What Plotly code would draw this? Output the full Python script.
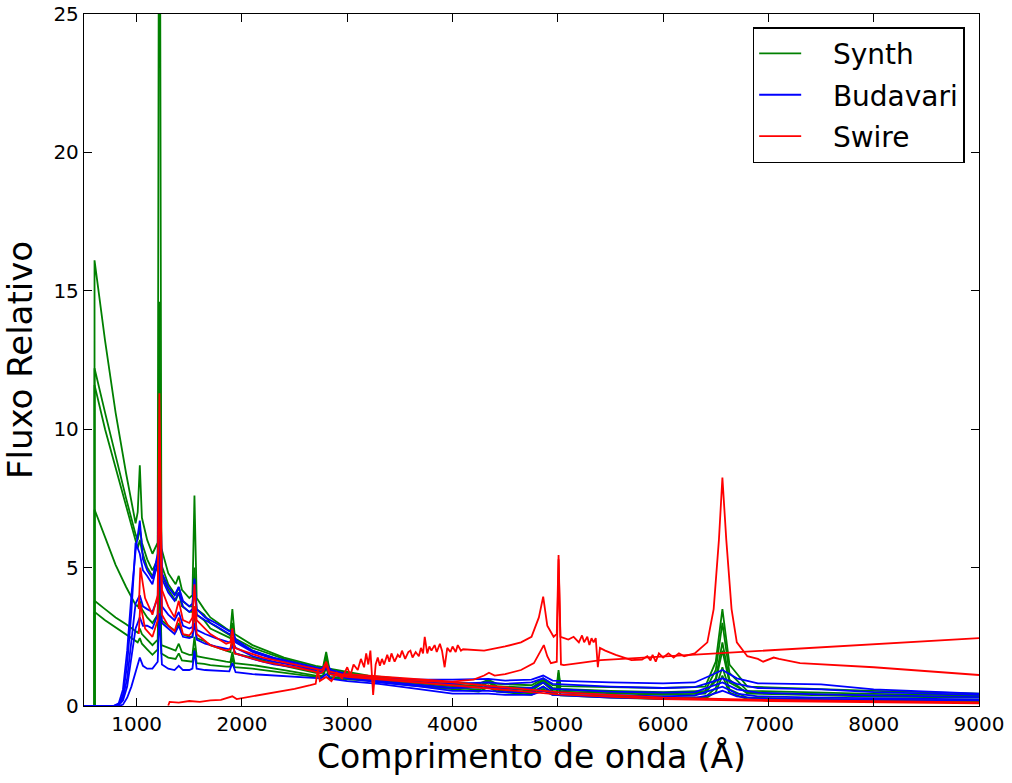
import plotly.graph_objects as go

# ---------------- Synth (green) ----------------
SYNTH_WAVE = [600, 600, 700, 800, 900, 990, 1010, 1030, 1050, 1100, 1150, 1200, 1216, 1235, 1300,
              1370, 1400, 1430, 1500, 1530, 1549, 1570, 1640, 1700, 1850, 1890, 1909, 1930, 2100, 2400,
              2700, 2770, 2800, 2830, 3200, 3600, 4000, 4250, 4340, 4420, 4750, 4861, 4950, 4990, 5007,
              5025, 5500, 6000, 6400, 6500, 6563, 6630, 6800, 7500, 8000, 9000]
SYNTH_1 = [0, 16.1, 13.2, 10.6, 8.4, 6.6, 7.0, 8.7, 6.8, 6.0, 5.5, 5.9, 40.0, 5.7, 4.8,
           4.4, 4.7, 4.2, 3.9, 4.0, 7.6, 3.9, 3.5, 3.2, 2.8, 2.7, 3.5, 2.6, 2.2, 1.75,
           1.45, 1.4, 1.95, 1.35, 1.1, 0.95, 0.85, 0.8, 0.95, 0.8, 0.75, 1.0, 0.75, 0.74, 1.3,
           0.72, 0.68, 0.65, 0.7, 1.6, 3.5, 1.5, 0.7, 0.6, 0.55, 0.45]
SYNTH_2 = [0, 12.2, 10.6, 9.0, 7.5, 6.2, 6.0, 6.4, 5.9, 5.3, 4.9, 5.3, 14.6, 5.1, 4.4,
           4.0, 4.3, 3.8, 3.6, 3.6, 5.0, 3.5, 3.3, 3.0, 2.65, 2.55, 3.0, 2.45, 2.1, 1.7,
           1.4, 1.35, 1.8, 1.3, 1.05, 0.9, 0.78, 0.72, 0.9, 0.72, 0.65, 0.95, 0.65, 0.64, 1.2,
           0.62, 0.55, 0.5, 0.55, 1.3, 3.0, 1.2, 0.55, 0.48, 0.44, 0.38]
SYNTH_3 = [0, 11.6, 10.0, 8.6, 7.2, 5.9, 5.7, 6.0, 5.6, 5.0, 4.7, 5.0, 12.0, 4.8, 4.2,
           3.8, 4.1, 3.6, 3.4, 3.4, 4.6, 3.3, 3.1, 2.8, 2.5, 2.45, 2.8, 2.35, 2.0, 1.6,
           1.3, 1.3, 1.7, 1.25, 1.0, 0.85, 0.72, 0.66, 0.85, 0.66, 0.55, 0.85, 0.55, 0.54, 1.1,
           0.52, 0.45, 0.4, 0.45, 1.0, 2.3, 0.95, 0.45, 0.38, 0.34, 0.3]
SYNTH_4 = [0, 7.1, 6.1, 5.1, 4.3, 3.65, 3.6, 3.8, 3.5, 3.2, 3.0, 3.3, 9.0, 3.1, 2.9,
           2.7, 3.0, 2.6, 2.5, 2.5, 3.6, 2.45, 2.35, 2.2, 2.0, 1.95, 2.4, 1.9, 1.75, 1.45,
           1.2, 1.2, 1.6, 1.15, 1.0, 0.85, 0.75, 0.7, 0.88, 0.7, 0.62, 0.9, 0.6, 0.6, 1.0,
           0.58, 0.5, 0.45, 0.5, 0.9, 2.0, 0.85, 0.48, 0.42, 0.38, 0.33]
SYNTH_5 = [0, 3.8, 3.5, 3.2, 2.95, 2.7, 2.65, 2.8, 2.6, 2.4, 2.2, 2.4, 6.0, 2.2, 2.1,
           2.0, 2.25, 1.95, 1.85, 1.85, 2.5, 1.8, 1.75, 1.7, 1.6, 1.58, 1.95, 1.55, 1.48, 1.3,
           1.1, 1.1, 1.5, 1.05, 0.95, 0.8, 0.65, 0.58, 0.75, 0.58, 0.45, 0.7, 0.45, 0.44, 0.85,
           0.42, 0.35, 0.3, 0.32, 0.65, 1.4, 0.6, 0.3, 0.25, 0.22, 0.18]
SYNTH_6 = [0, 3.4, 3.1, 2.85, 2.6, 2.35, 2.3, 2.45, 2.25, 2.05, 1.85, 2.05, 5.0, 1.9, 1.75,
           1.7, 1.9, 1.65, 1.6, 1.6, 2.1, 1.55, 1.52, 1.48, 1.42, 1.42, 1.75, 1.4, 1.35, 1.2,
           1.05, 1.05, 1.4, 1.0, 0.92, 0.75, 0.6, 0.52, 0.68, 0.52, 0.4, 0.62, 0.4, 0.4, 0.75,
           0.38, 0.3, 0.25, 0.27, 0.5, 1.1, 0.48, 0.25, 0.2, 0.17, 0.13]

# ---------------- Budavari (blue) ----------------
BUD_WAVE = [500, 780, 830, 870, 910, 950, 990, 1030, 1060, 1100, 1150, 1200, 1216, 1240, 1300,
            1360, 1400, 1440, 1500, 1530, 1549, 1570, 1650, 1750, 1880, 1909, 1940, 2100, 2300, 2600,
            2750, 2800, 2850, 3000, 3300, 3700, 4000, 4340, 4500, 4750, 4861, 4950, 5500, 6000, 6300,
            6450, 6563, 6700, 6900, 7500, 8000, 9000]
BUD_1 = [0, 0, 0.1, 0.6, 2.0, 4.0, 5.6, 6.7, 5.3, 4.9, 4.6, 5.5, 9.5, 4.8, 4.3,
         4.0, 4.3, 3.8, 3.6, 3.7, 4.6, 3.5, 3.2, 3.0, 2.7, 2.75, 2.4, 2.0, 1.75, 1.5,
         1.35, 1.5, 1.3, 1.15, 1.0, 0.95, 0.95, 0.98, 0.92, 0.95, 1.1, 0.92, 0.85, 0.82, 0.85,
         1.1, 1.3, 1.0, 0.82, 0.78, 0.6, 0.45]
BUD_2 = [0, 0, 0.05, 0.4, 1.5, 3.4, 5.9, 5.5, 4.9, 4.7, 4.4, 5.2, 8.5, 4.6, 4.1,
         3.8, 4.1, 3.6, 3.4, 3.5, 4.4, 3.3, 3.1, 2.9, 2.6, 2.65, 2.3, 1.95, 1.7, 1.45,
         1.3, 1.45, 1.25, 1.1, 0.95, 0.85, 0.8, 0.85, 0.8, 0.85, 1.0, 0.8, 0.7, 0.65, 0.68,
         0.85, 1.0, 0.8, 0.65, 0.6, 0.5, 0.4]
BUD_3 = [0, 0, 0.05, 0.3, 1.0, 2.3, 3.7, 4.0, 3.6, 3.5, 3.4, 3.9, 7.0, 3.6, 3.3,
         3.1, 3.4, 2.9, 2.8, 2.85, 3.5, 2.75, 2.6, 2.45, 2.3, 2.35, 2.1, 1.8, 1.6, 1.4,
         1.25, 1.4, 1.2, 1.05, 0.9, 0.75, 0.65, 0.68, 0.62, 0.65, 0.85, 0.62, 0.52, 0.48, 0.5,
         0.7, 0.85, 0.6, 0.48, 0.42, 0.38, 0.32]
BUD_4 = [0, 0, 0.03, 0.2, 0.7, 1.7, 2.8, 3.2, 2.9, 2.9, 2.8, 3.3, 5.5, 3.0, 2.8,
         2.6, 2.9, 2.5, 2.45, 2.5, 3.0, 2.4, 2.25, 2.15, 2.05, 2.15, 1.9, 1.7, 1.5, 1.35,
         1.2, 1.35, 1.15, 1.0, 0.85, 0.7, 0.55, 0.55, 0.5, 0.5, 0.7, 0.5, 0.4, 0.35, 0.38,
         0.55, 0.7, 0.45, 0.35, 0.3, 0.28, 0.24]
BUD_5 = [0, 0, 0.0, 0.05, 0.3, 0.7, 1.2, 1.75, 1.45, 1.35, 1.35, 1.6, 3.35, 1.5, 1.35,
         1.3, 1.45, 1.3, 1.3, 1.35, 2.0, 1.35, 1.3, 1.28, 1.25, 1.55, 1.22, 1.15, 1.1, 1.05,
         1.0, 1.15, 0.98, 0.9, 0.8, 0.6, 0.45, 0.45, 0.4, 0.4, 0.55, 0.4, 0.3, 0.27, 0.28,
         0.4, 0.55, 0.35, 0.27, 0.24, 0.22, 0.2]

# ---------------- Swire (red) ----------------
SW_UV_WAVE = [1020, 1035, 1080, 1150, 1200, 1216, 1240, 1300, 1360, 1400, 1440, 1500, 1530, 1549, 1570,
              1700, 1850, 1890, 1909, 1930, 2200, 2500, 2750, 2770, 2800, 2830, 3000, 3500, 4000, 5000,
              6000, 7000, 8000, 9000]
SW_UV_1 = [3.5, 5.0, 3.9, 3.3, 4.0, 11.3, 4.2, 3.6, 3.2, 3.8, 3.1, 3.0, 3.2, 4.4, 3.1,
           2.6, 2.25, 2.3, 2.8, 2.1, 1.75, 1.5, 1.3, 1.35, 1.6, 1.25, 1.1, 0.95, 0.85, 0.5,
           0.3, 0.22, 0.17, 0.13]
SW_UV_2 = [2.6, 3.7, 2.8, 2.5, 3.1, 8.5, 3.3, 2.9, 2.7, 3.2, 2.6, 2.55, 2.7, 3.6, 2.6,
           2.2, 2.0, 2.05, 2.5, 1.9, 1.6, 1.4, 1.2, 1.25, 1.5, 1.15, 1.05, 0.9, 0.75, 0.42,
           0.25, 0.18, 0.14, 0.1]

SW_A_WAVE = [1300, 1313, 1400, 1500, 1600, 1700, 1800, 1909, 1950, 2100, 2300, 2500, 2650, 2700, 2720,
             2740, 2800, 2850, 2900, 2950, 3000, 3030, 3060, 3100, 3130, 3160, 3180, 3200, 3220, 3246,
             3270, 3290, 3310, 3330, 3350, 3380, 3400, 3420, 3450, 3480, 3500, 3520, 3550, 3580, 3600,
             3620, 3650, 3680, 3700, 3720, 3736, 3760, 3780, 3800, 3830, 3850, 3880, 3900, 3925, 3950,
             3980, 4000, 4030, 4050, 4080, 4100, 4300, 4500, 4650, 4750, 4820, 4861, 4900, 4960, 4990,
             5007, 5025, 5100, 5150, 5200, 5230, 5250, 5280, 5300, 5320, 5340, 5360, 5380, 5400, 5450,
             5550, 5700, 5800, 5850, 5880, 5900, 5930, 5960, 6000, 6050, 6100, 6150, 6200, 6300, 6420,
             6480, 6530, 6563, 6600, 6650, 6700, 6800, 6900, 6950, 7050, 7100, 7300, 8000, 9000]
SW_A_FLUX = [0.02, 0.15, 0.12, 0.18, 0.15, 0.2, 0.22, 0.35, 0.25, 0.35, 0.5, 0.62, 0.75, 0.8, 1.3,
             0.9, 1.05, 0.9, 1.2, 1.0, 1.4, 1.1, 1.5, 1.3, 1.7, 1.4, 1.9, 1.5, 2.0, 0.4,
             1.5, 1.75, 1.45, 1.7, 1.5, 1.85, 1.6, 1.9, 1.6, 1.85, 1.75, 2.0, 1.7, 1.95, 2.0,
             1.75, 1.95, 1.8, 2.1, 1.9, 2.5, 1.9, 2.15, 2.0, 2.2, 1.95, 2.25, 2.0, 1.4, 2.1,
             1.95, 2.15, 1.95, 2.2, 2.0, 2.05, 2.0, 2.15, 2.3, 2.5, 3.2, 3.95, 2.9, 2.5, 2.6,
             5.45, 2.5, 2.4, 2.5, 2.3, 2.55, 2.3, 2.5, 2.2, 2.45, 2.3, 2.45, 1.4, 2.1, 2.0,
             1.85, 1.66, 1.68, 1.8, 1.65, 1.85, 1.6, 1.9, 1.75, 1.9, 1.75, 1.9, 1.8, 1.9, 2.3,
             3.5, 6.0, 8.25, 6.0, 3.5, 2.3, 1.8, 1.7, 1.6, 1.75, 1.7, 1.55, 1.4, 1.12]

SW_B_WAVE = [2900, 3000, 3200, 3400, 3600, 3800, 4000, 4200, 4300, 4346, 4400, 4500, 4650, 4773, 4820,
             4867, 4900, 4934, 4990, 5007, 5030, 5057, 5200, 5408, 9000]
SW_B_FLUX = [1.1, 1.15, 1.1, 1.05, 1.0, 0.95, 0.88, 0.95, 1.1, 1.2, 1.1, 1.15, 1.3, 1.55, 1.9,
             2.2, 1.8, 1.55, 1.6, 5.3, 1.5, 1.48, 1.55, 1.66, 2.45]

SERIES = [
    ("Synth", "#008000", [(SYNTH_WAVE, s) for s in (SYNTH_1, SYNTH_2, SYNTH_3, SYNTH_4, SYNTH_5, SYNTH_6)]),
    ("Budavari", "#0000ff", [(BUD_WAVE, s) for s in (BUD_1, BUD_2, BUD_3, BUD_4, BUD_5)]),
    ("Swire", "#ff0000", [(SW_UV_WAVE, SW_UV_1), (SW_UV_WAVE, SW_UV_2),
                          (SW_A_WAVE, SW_A_FLUX), (SW_B_WAVE, SW_B_FLUX)]),
]

X_TICKS = [1000, 2000, 3000, 4000, 5000, 6000, 7000, 8000, 9000]
Y_TICKS = [0, 5, 10, 15, 20, 25]

FONT = "DejaVu Sans"
NBSP = "\u00a0"

fig = go.Figure()
for name, color, curves in SERIES:
    for i, (wx, fy) in enumerate(curves):
        assert len(wx) == len(fy), name
        fig.add_trace(go.Scatter(
            x=wx, y=fy, mode="lines", name=NBSP * 3 + name, legendgroup=name,
            showlegend=(i == 0), line=dict(color=color, width=1.8),
            hoverinfo="skip"))

axis_common = dict(
    showline=True, linecolor="black", linewidth=1.3, mirror="ticks",
    ticks="inside", ticklen=8, tickwidth=1, tickcolor="black",
    showgrid=False, zeroline=False, automargin=False,
    ticklabeloverflow="allow",
    tickfont=dict(family=FONT, size=20, color="black"),
)

fig.update_layout(
    width=1012, height=783,
    margin=dict(l=84, r=33, t=14, b=77),
    paper_bgcolor="white", plot_bgcolor="white",
    font=dict(family=FONT, color="black"),
    xaxis=dict(range=[500, 9000], tickvals=X_TICKS, ticktext=[str(t) for t in X_TICKS],
               title=dict(text="Comprimento de onda (Å)", font=dict(family=FONT, size=33), standoff=4),
               **axis_common),
    yaxis=dict(range=[0, 25], tickvals=Y_TICKS, ticktext=[str(t) for t in Y_TICKS],
               title=dict(text="Fluxo Relativo", font=dict(family=FONT, size=34), standoff=11),
               **axis_common),
    legend=dict(x=0.984, y=0.981, xanchor="right", yanchor="top",
                bgcolor="white", bordercolor="black", borderwidth=1.5,
                font=dict(family=FONT, size=28, color="black"),
                traceorder="grouped", tracegroupgap=2, itemwidth=42),
    showlegend=True,
)

# Remove the default 8px page margin so the figure sits at the window origin.
fig.write_html("out.html",
               config={"displayModeBar": False},
               post_script="document.body.style.margin='0';document.body.style.overflow='hidden';")
